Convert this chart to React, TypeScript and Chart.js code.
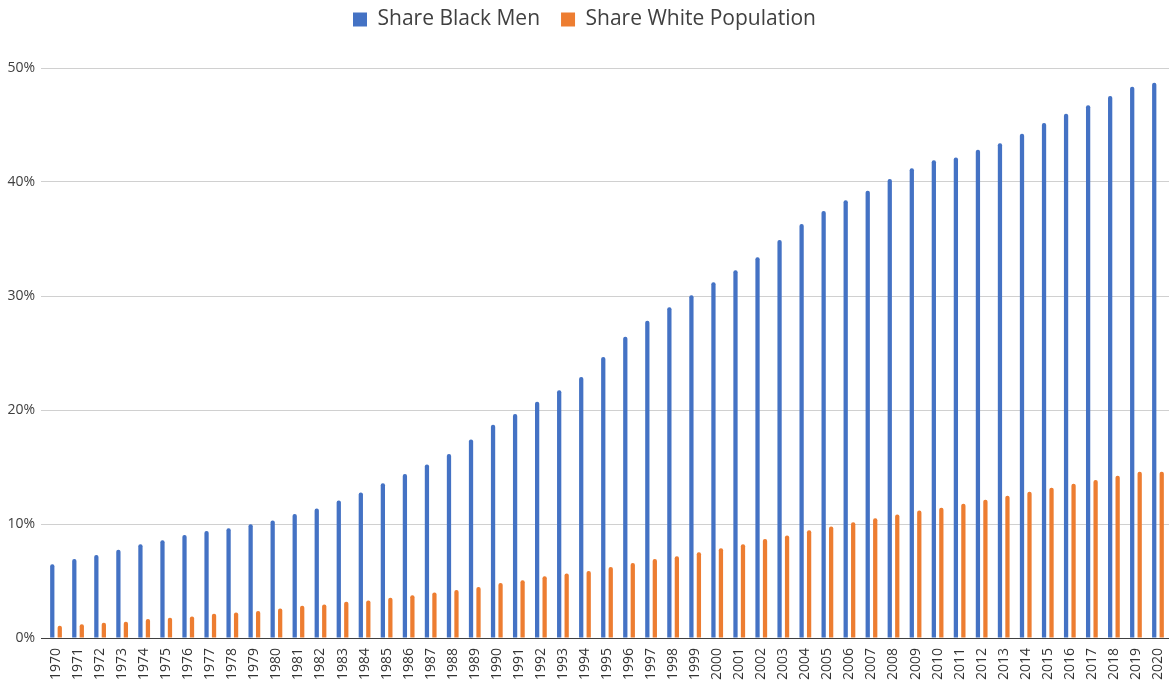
import React, { useEffect, useRef } from "react";
import { Chart, registerables } from "chart.js";

Chart.register(...registerables);

const years: string[] = [];
for (let y = 1970; y <= 2020; y++) years.push(String(y));

const shareBlackMen = [
  6.47, 6.93, 7.28, 7.75, 8.22, 8.57, 9.03, 9.38, 9.62, 9.97,
  10.31, 10.87, 11.36, 12.06, 12.76, 13.58, 14.39, 15.22, 16.14, 17.42,
  18.71, 19.64, 20.72, 21.74, 22.9, 24.65, 26.42, 27.82, 29.02, 30.07,
  31.2, 32.26, 33.4, 34.92, 36.32, 37.45, 38.4, 39.24, 40.26, 41.21,
  41.91, 42.16, 42.83, 43.39, 44.23, 45.18, 45.99, 46.73, 47.54, 48.35,
  48.7,
];

const shareWhitePopulation = [
  1.08, 1.2, 1.34, 1.43, 1.66, 1.78, 1.89, 2.13, 2.24, 2.36,
  2.59, 2.83, 2.94, 3.17, 3.29, 3.52, 3.76, 3.99, 4.22, 4.48,
  4.83, 5.07, 5.42, 5.65, 5.88, 6.23, 6.58, 6.93, 7.17, 7.52,
  7.87, 8.22, 8.68, 9.0, 9.46, 9.78, 10.16, 10.51, 10.83, 11.18,
  11.43, 11.78, 12.13, 12.48, 12.83, 13.19, 13.54, 13.85, 14.24, 14.59,
  14.59,
];

const seriesNames = ["Share Black Men", "Share White Population"];
const yTicks = [0, 10, 20, 30, 40, 50];

const legendSpacer = {
  id: "legendSpacer",
  beforeInit(chart: any) {
    const legend = chart.legend;
    if (!legend) return;
    const origFit = legend.fit;
    legend.fit = function () {
      origFit.call(this);
      this.height += 28;
    };
  },
};

export default function App() {
  const ref = useRef<HTMLCanvasElement | null>(null);

  useEffect(() => {
    document.body.style.margin = "0";
    const canvas = ref.current;
    if (!canvas) return;
    const chart = new Chart(canvas, {
      type: "bar",
      data: {
        labels: years,
        datasets: [
          {
            label: seriesNames[0],
            data: shareBlackMen,
            backgroundColor: "#4472C4",
            borderRadius: { topLeft: 2, topRight: 2, bottomLeft: 0, bottomRight: 0 },
            borderSkipped: "bottom",
            categoryPercentage: 0.68,
            barPercentage: 0.57,
          },
          {
            label: seriesNames[1],
            data: shareWhitePopulation,
            backgroundColor: "#ED7D31",
            borderRadius: { topLeft: 2, topRight: 2, bottomLeft: 0, bottomRight: 0 },
            borderSkipped: "bottom",
            categoryPercentage: 0.68,
            barPercentage: 0.57,
          },
        ],
      },
      plugins: [legendSpacer],
      options: {
        responsive: false,
        animation: false,
        maintainAspectRatio: false,
        layout: { padding: { left: 0, right: 0, top: -12, bottom: 0 } },
        plugins: {
          tooltip: { enabled: false },
          legend: {
            position: "top",
            labels: {
              boxWidth: 14,
              boxHeight: 14,
              padding: 21,
              color: "#404040",
              font: { family: "'Open Sans', sans-serif", size: 21 },
            },
          },
        },
        scales: {
          x: {
            grid: { display: false },
            border: { display: false },
            ticks: {
              autoSkip: false,
              minRotation: 90,
              maxRotation: 90,
              padding: 2,
              color: "#333333",
              font: { family: "'Open Sans', sans-serif", size: 14 },
            },
            afterFit: (scale: any) => {
              scale.height = 43;
              scale.paddingRight = 0;
              scale.paddingLeft = 0;
            },
          },
          y: {
            min: 0,
            max: 50,
            afterBuildTicks: (scale: any) => {
              scale.ticks = yTicks.map((v) => ({ value: v }));
            },
            grid: {
              color: (ctx: any) => (ctx.tick && ctx.tick.value === 0 ? "#404040" : "#d0d0d0"),
              lineWidth: 1,
              drawTicks: true,
              tickLength: 4,
            },
            border: { display: false },
            ticks: {
              padding: 6,
              color: "#404040",
              font: { family: "'Open Sans', sans-serif", size: 14 },
              callback: (v: any) => v + "%",
            },
            afterFit: (scale: any) => {
              scale.width = 45;
            },
          },
        },
      },
    });
    return () => chart.destroy();
  }, []);

  return (
    <div style={{ width: 1169, height: 681 }}>
      <canvas ref={ref} width={1169} height={681} style={{ width: 1169, height: 681 }} />
    </div>
  );
}
